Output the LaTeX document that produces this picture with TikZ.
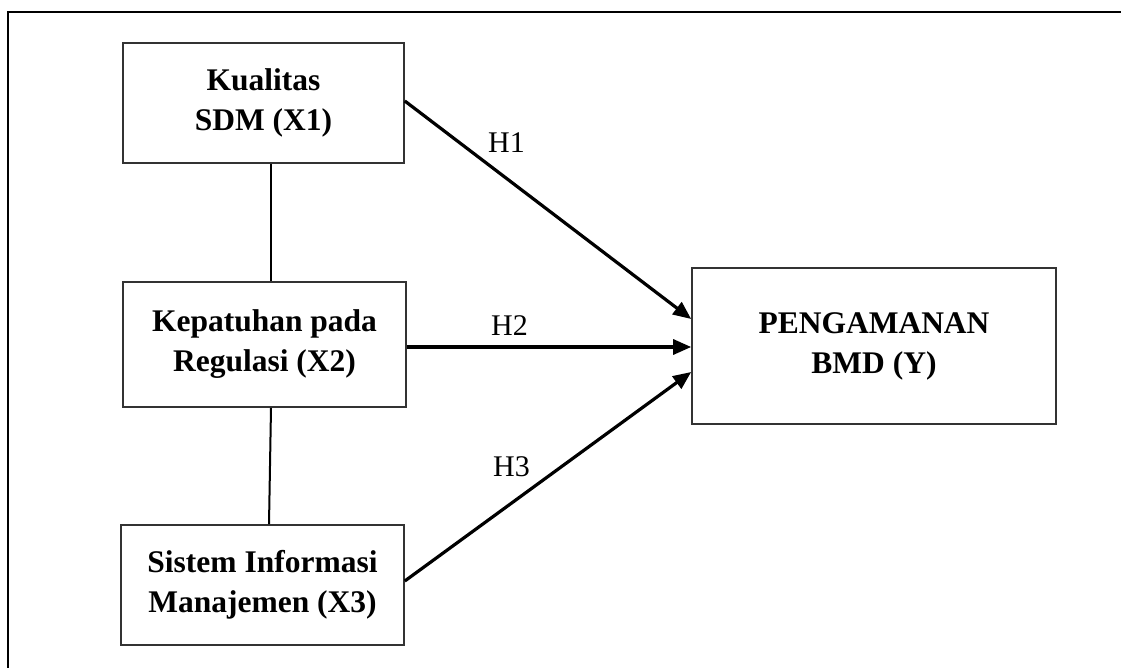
\documentclass[tikz,border=0pt]{standalone}
\usepackage{fontspec}
\setmainfont{Liberation Serif}
\usetikzlibrary{arrows.meta}
\begin{document}
\begin{tikzpicture}[x=1pt,y=-1pt,
  varbox/.style={draw=black!80,line width=1.6pt,inner sep=0pt,align=center,
    font=\fontsize{31.5}{40}\selectfont\bfseries},
  link/.style={draw=black,line width=2pt},
  hyp/.style={draw=black,line width=3.2pt,-{Triangle[length=18pt,width=15pt]}},
  hlabel/.style={anchor=base,inner sep=0pt,font=\fontsize{30}{36}\selectfont}]
\useasboundingbox (0,0) rectangle (1121,668);
% frame (left and top edges)
\draw[line width=2.2pt] (8,668) -- (8,12) -- (1121,12);
% variable boxes
\node[varbox,minimum width=281pt,minimum height=120pt] (x1) at (263.5,103) {Kualitas\\SDM (X1)};
\node[varbox,minimum width=283pt,minimum height=125pt] (x2) at (264.5,344.5) {Kepatuhan pada\\Regulasi (X2)};
\node[varbox,minimum width=283pt,minimum height=120pt] (x3) at (262.5,585) {Sistem Informasi\\Manajemen (X3)};
\node[varbox,minimum width=364pt,minimum height=156pt] (y) at (874,346) {PENGAMANAN\\BMD (Y)};
% vertical links
\draw[link] ([xshift=7.5pt]x1.south) -- ([xshift=6.5pt]x2.north);
\draw[link] ([xshift=6.5pt]x2.south) -- ([xshift=6.5pt]x3.north);
% hypothesis arrows
\draw[hyp] ([yshift=2pt]x1.east) -- ([yshift=27pt]y.west);
\draw[hyp] ([yshift=-2.5pt]x2.east) -- ([yshift=-1pt]y.west);
\draw[hyp] ([yshift=4pt]x3.east) -- ([yshift=-26pt]y.west);
% labels
\node[hlabel] (h1) at (506.5,153) {H1};
\node[hlabel] (h2) at (509.5,335) {H2};
\node[hlabel] (h3) at (511.5,476.7) {H3};
\end{tikzpicture}
\end{document}
